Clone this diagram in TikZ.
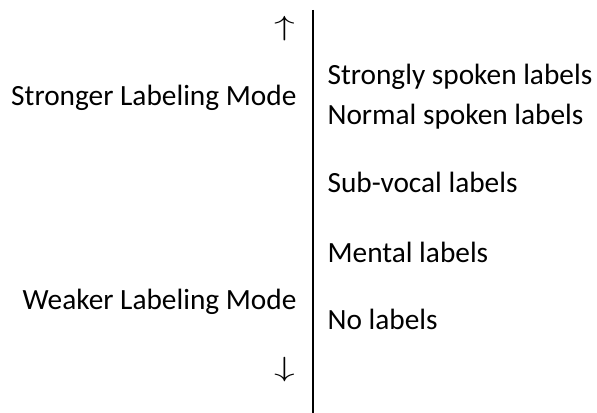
\documentclass[tikz,border=0pt]{standalone}
\usepackage{fontspec}
\usepackage{graphicx}
\setmainfont{Carlito}
\begin{document}
\begin{tikzpicture}[x=0.75pt,y=-0.75pt,
  lab/.style={inner sep=0pt,anchor=base west,font=\fontsize{22}{24}\selectfont},
  mode/.style={inner sep=0pt,anchor=base east,font=\fontsize{22}{24}\selectfont},
  arr/.style={inner sep=0pt,font=\fontsize{21}{23}\selectfont}]
\useasboundingbox (0,0) rectangle (597,413);
\coordinate (top) at (312.5,10);
\coordinate (bot) at (312.5,413);
\draw[line width=1.5pt] (top) -- (bot);
\node[arr] (up) at (284.5,29) {\scalebox{1.5}[1]{$\uparrow$}};
\node[arr] (down) at (284.5,369.5) {\scalebox{1.5}[1]{$\downarrow$}};
\node[mode] (strong) at (296.7,106) {Stronger Labeling Mode};
\node[mode] (weak) at (296.7,309.5) {Weaker Labeling Mode};
\node[lab] (s1) at (327.3,85) {Strongly spoken labels};
\node[lab] (s2) at (327.3,125) {Normal spoken labels};
\node[lab] (s3) at (327.3,193) {Sub-vocal labels};
\node[lab] (s4) at (327.3,262.5) {Mental labels};
\node[lab] (s5) at (327.3,329.5) {No labels};
\end{tikzpicture}
\end{document}
